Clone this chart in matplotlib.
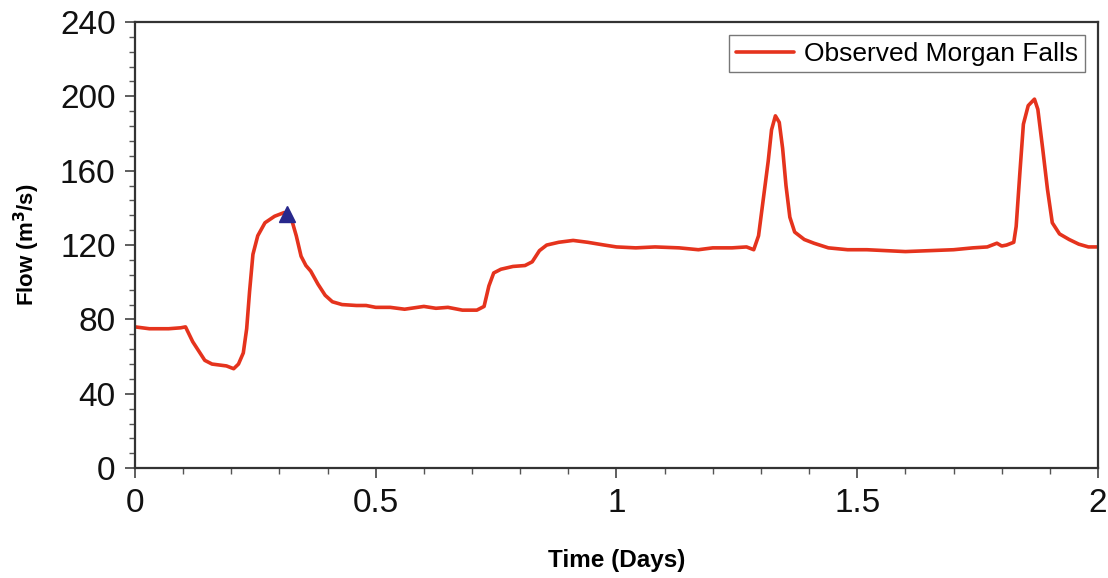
import matplotlib.pyplot as plt
from matplotlib.ticker import MultipleLocator

plt.rcParams['font.family'] = ['Liberation Sans', 'DejaVu Sans']

# Observed flow at Morgan Falls (days, m3/s)
days = [0.0, 0.03, 0.07, 0.095, 0.105, 0.12, 0.145, 0.16, 0.19, 0.205,
        0.215, 0.225, 0.232, 0.238, 0.245, 0.255, 0.27, 0.29, 0.31, 0.325,
        0.335, 0.345, 0.355, 0.365, 0.38, 0.395, 0.41, 0.43, 0.46, 0.48,
        0.5, 0.53, 0.56, 0.6, 0.625, 0.65, 0.68, 0.71, 0.725, 0.735,
        0.745, 0.76, 0.785, 0.81, 0.825, 0.84, 0.855, 0.88, 0.91, 0.94,
        0.975, 1.0, 1.04, 1.08, 1.13, 1.17, 1.2, 1.24, 1.27, 1.285,
        1.295, 1.305, 1.315, 1.322, 1.33, 1.338, 1.345, 1.352, 1.36, 1.37,
        1.39, 1.41, 1.44, 1.48, 1.52, 1.56, 1.6, 1.65, 1.7, 1.74,
        1.77, 1.79, 1.8, 1.81, 1.825, 1.83, 1.838, 1.845, 1.855, 1.868,
        1.875, 1.885, 1.895, 1.905, 1.92, 1.94, 1.96, 1.98, 2.0]
flow = [76, 75, 75, 75.5, 76, 68, 58, 56, 55, 53.5,
        56, 62, 75, 95, 115, 125, 132, 135.5, 137.5, 134,
        125, 114, 109, 106, 99, 93, 89.5, 88, 87.5, 87.5,
        86.5, 86.5, 85.5, 87, 86, 86.5, 85, 85, 87, 98,
        105, 107, 108.5, 109, 111, 117, 120, 121.5, 122.5, 121.5,
        120, 119, 118.5, 119, 118.5, 117.5, 118.5, 118.5, 119, 117.5,
        125, 145, 165, 182, 189.5, 186, 172, 152, 135, 127,
        123, 121, 118.5, 117.5, 117.5, 117, 116.5, 117, 117.5, 118.5,
        119, 121, 119.5, 120, 121.5, 130, 160, 185, 195, 198.5,
        193, 172, 150, 132, 126, 123, 120.5, 119, 119]

# time of the marked point on the first rise
mark_day = [0.316]
mark_flow = [136.5]

fig = plt.figure(figsize=(11.08, 5.78), dpi=100)
ax = fig.add_axes([0.1218, 0.19, 0.8692, 0.772])

ax.plot(days, flow, color='#e5331d', lw=2.6, solid_joinstyle='round',
        solid_capstyle='round', label='Observed Morgan Falls')
ax.plot(mark_day, mark_flow, marker='^', color='#28288c', ms=12,
        linestyle='none')

ax.set_xlim(0, 2)
ax.set_ylim(0, 240)
ax.xaxis.set_major_locator(MultipleLocator(0.5))
ax.xaxis.set_minor_locator(MultipleLocator(0.1))
ax.yaxis.set_major_locator(MultipleLocator(40))
ax.yaxis.set_minor_locator(MultipleLocator(8))
ax.set_xticks([0, 0.5, 1, 1.5, 2])
ax.set_xticklabels(['0', '0.5', '1', '1.5', '2'])

ax.tick_params(which='major', direction='out', length=7, width=1.1,
               labelsize=24, colors='#333333', labelcolor='#111111', pad=7)
ax.tick_params(which='minor', direction='out', length=4, width=1.0,
               colors='#555555')
for s in ax.spines.values():
    s.set_linewidth(1.6)
    s.set_color('#333333')

ax.set_xlabel('Time (Days)', fontsize=17.5, fontweight='bold')
ax.set_ylabel('Flow (m$^\\mathbf{3}$/s)', fontsize=16, fontweight='bold')
ax.xaxis.set_label_coords(0.5, -0.182)
ax.yaxis.set_label_coords(-0.097, 0.5)

leg = ax.legend(loc='upper right', fontsize=19, frameon=True, fancybox=False,
                edgecolor='#555555', borderpad=0.25, handlelength=2.2,
                handletextpad=0.4, borderaxespad=0.5)
leg.get_frame().set_linewidth(1.0)
leg.legend_handles[0].set_linewidth(2.6)

fig.savefig('out.png', dpi=100)
